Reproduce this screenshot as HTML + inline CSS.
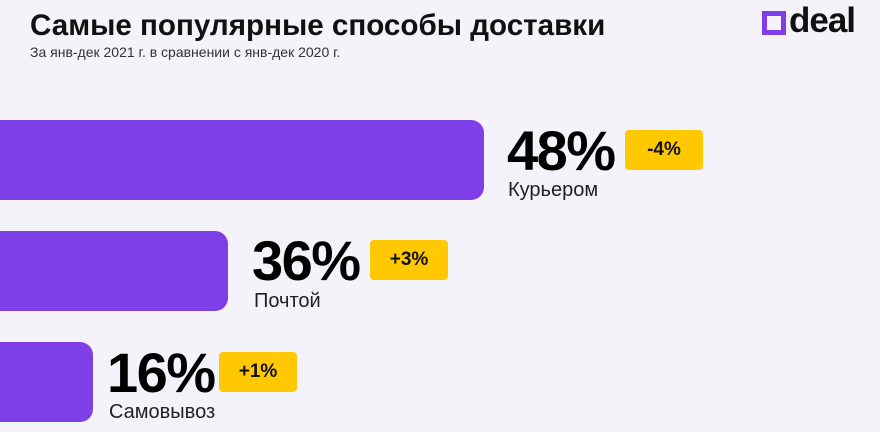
<!DOCTYPE html>
<html><head><meta charset="utf-8"><style>
body{margin:0;width:880px;height:432px;background:#f4f3f9;font-family:"Liberation Sans","DejaVu Sans",sans-serif;position:relative;overflow:hidden}
.a{position:absolute;white-space:nowrap}
.bar{position:absolute;left:0;height:80px;background:#7f3fe8;border-radius:0 13px 13px 0}
.num{position:absolute;font-weight:bold;font-size:56px;line-height:56px;color:#000;letter-spacing:-1.5px}
.bd{position:absolute;height:40px;width:78px;background:#ffc800;border-radius:4px;font-weight:bold;font-size:19px;line-height:40px;text-align:center;color:#111}
.lb{position:absolute;font-size:20px;color:#222}
</style></head><body>
<div class="a" style="left:30px;top:9px;font-size:29.6px;font-weight:bold;color:#111">Самые популярные способы доставки</div>
<div class="a" style="left:30px;top:44px;font-size:14px;color:#333">За янв-дек 2021 г. в сравнении с янв-дек 2020 г.</div>
<div class="a" style="left:762px;top:11px;width:24px;height:24px;box-sizing:border-box;border:5px solid #7f3fe8"></div>
<div class="a" style="left:789px;top:1px;font-size:35px;font-weight:bold;color:#111;letter-spacing:-1px">deal</div>

<div class="bar" style="top:120px;width:484px"></div>
<div class="num" style="left:507px;top:123px">48%</div>
<div class="bd" style="left:625px;top:130px">-4%</div>
<div class="lb" style="left:508px;top:179px">Курьером</div>

<div class="bar" style="top:231px;width:228px"></div>
<div class="num" style="left:252px;top:233px">36%</div>
<div class="bd" style="left:370px;top:240px">+3%</div>
<div class="lb" style="left:254px;top:290px">Почтой</div>

<div class="bar" style="top:342px;width:93px"></div>
<div class="num" style="left:107px;top:345px">16%</div>
<div class="bd" style="left:219px;top:352px">+1%</div>
<div class="lb" style="left:109px;top:401px">Самовывоз</div>
</body></html>
